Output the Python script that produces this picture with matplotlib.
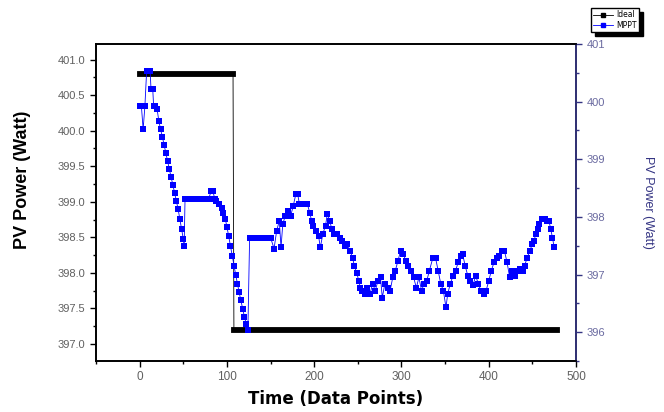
import matplotlib

matplotlib.use("Agg")
import matplotlib.pyplot as plt
from matplotlib.ticker import MultipleLocator
from matplotlib.lines import Line2D

# Ideal power (left axis), breakpoints of the step
ideal_x = [0, 107, 108, 478]
ideal_y = [400.8, 400.8, 397.2, 397.2]

# MPPT power (right axis)
mppt_x = [0, 2, 4, 6, 8, 10, 12, 13, 15, 16, 18, 20, 22, 24, 26, 28, 30, 32, 34,
          36, 38, 40, 42, 44, 46, 48, 50, 51, 52, 55, 58, 61, 64, 67, 70, 73, 76,
          79, 82, 84, 86, 88, 91, 94, 96, 98, 100, 102, 104, 106, 108, 110, 112,
          114, 116, 118, 120, 122, 124, 126, 129, 132, 135, 138, 141, 144, 147,
          150, 154, 157, 160, 162, 164, 167, 170, 173, 176, 179, 181, 183, 186,
          189, 192, 195, 197, 199, 202, 205, 207, 210, 213, 215, 218, 220, 223,
          226, 229, 232, 235, 238, 241, 244, 246, 249, 251, 253, 255, 258, 261,
          264, 267, 270, 273, 276, 278, 281, 284, 287, 290, 293, 296, 299, 302,
          305, 308, 311, 314, 317, 320, 323, 326, 329, 332, 336, 339, 342, 345,
          348, 351, 353, 356, 359, 362, 365, 368, 370, 373, 376, 379, 382, 385,
          388, 391, 394, 397, 400, 403, 406, 409, 412, 415, 418, 421, 424, 427,
          430, 433, 436, 439, 441, 444, 447, 450, 452, 454, 456, 458, 461, 464,
          467, 469, 471, 473, 475]
mppt_y = [399.92, 399.92, 399.52, 399.92, 400.53, 400.53, 400.53, 400.22, 400.22,
          399.92, 399.92, 399.87, 399.66, 399.52, 399.39, 399.25, 399.11, 398.97,
          398.83, 398.69, 398.56, 398.42, 398.28, 398.14, 397.97, 397.79, 397.62,
          397.50, 398.31, 398.31, 398.31, 398.31, 398.31, 398.31, 398.31, 398.31,
          398.31, 398.31, 398.45, 398.45, 398.31, 398.28, 398.23, 398.16, 398.07,
          397.97, 397.83, 397.67, 397.50, 397.33, 397.15, 397.00, 396.84, 396.69,
          396.55, 396.41, 396.27, 396.15, 396.03, 397.64, 397.64, 397.64, 397.64,
          397.64, 397.64, 397.64, 397.64, 397.64, 397.45, 397.76, 397.93, 397.47,
          397.88, 398.02, 398.11, 398.02, 398.19, 398.40, 398.40, 398.23, 398.23,
          398.23, 398.23, 398.07, 397.93, 397.85, 397.76, 397.67, 397.47, 397.71,
          397.85, 398.05, 397.93, 397.79, 397.71, 397.71, 397.64, 397.59, 397.50,
          397.53, 397.41, 397.29, 397.15, 397.02, 396.89, 396.77, 396.72, 396.67,
          396.77, 396.67, 396.84, 396.72, 396.89, 396.95, 396.60, 396.84, 396.77,
          396.72, 396.95, 397.07, 397.24, 397.41, 397.36, 397.24, 397.15, 397.07,
          396.95, 396.77, 396.95, 396.72, 396.84, 396.89, 397.07, 397.29, 397.29,
          397.07, 396.84, 396.72, 396.43, 396.67, 396.84, 396.98, 397.07, 397.21,
          397.33, 397.36, 397.15, 396.98, 396.89, 396.81, 396.98, 396.84, 396.72,
          396.67, 396.72, 396.89, 397.07, 397.21, 397.29, 397.33, 397.41, 397.41,
          397.21, 396.95, 397.07, 396.98, 397.07, 397.10, 397.07, 397.15, 397.29,
          397.41, 397.53, 397.59, 397.71, 397.79, 397.88, 397.97, 397.97, 397.93,
          397.93, 397.79, 397.64, 397.47]

NAVY = "#343483"
TICK_GREY = "#606060"
TICK_BLUE = "#6a6aa0"

fig = plt.figure(figsize=(6.64, 4.12), dpi=100)
ax = fig.add_axes([0.1446, 0.1238, 0.7229, 0.7694])
ax2 = ax.twinx()

# Ideal: thin connecting line plus thick runs where the level holds
ax.plot(ideal_x, ideal_y, color="black", lw=0.6, zorder=2)
for i in range(len(ideal_x) - 1):
    if ideal_y[i] == ideal_y[i + 1]:
        ax.plot(ideal_x[i:i + 2], ideal_y[i:i + 2], color="black", lw=4.2,
                solid_capstyle="projecting", zorder=3)

ax2.plot(mppt_x, mppt_y, color="blue", lw=0.6, marker="s", markersize=4.8,
         markeredgewidth=0, zorder=4)

ax.set_xlim(-50, 500)
ax.set_ylim(396.76, 401.22)
ax2.set_ylim(395.5, 401.0)

ax.xaxis.set_major_locator(MultipleLocator(100))
ax.xaxis.set_minor_locator(MultipleLocator(50))
ax.yaxis.set_major_locator(MultipleLocator(0.5))
ax.yaxis.set_minor_locator(MultipleLocator(0.25))
ax.yaxis.set_major_formatter(matplotlib.ticker.FormatStrFormatter("%.1f"))
ax2.yaxis.set_major_locator(MultipleLocator(1))
ax2.yaxis.set_minor_locator(MultipleLocator(0.5))
ax2.yaxis.set_major_formatter(matplotlib.ticker.FormatStrFormatter("%d"))

for a in (ax, ax2):
    for s in a.spines.values():
        s.set_linewidth(1.2)
ax2.spines["right"].set_color(NAVY)

ax.tick_params(axis="both", which="major", direction="out", length=4, width=1,
               labelsize=8, labelcolor=TICK_GREY)
ax.tick_params(axis="both", which="minor", direction="out", length=2.5, width=1)
ax.tick_params(axis="x", labelsize=8.5)
ax2.tick_params(axis="y", which="major", direction="out", length=4, width=1,
                labelsize=8, labelcolor=TICK_BLUE, color=NAVY)
ax2.tick_params(axis="y", which="minor", direction="out", length=2.5, width=1,
                color=NAVY)
for lab in ax.get_xticklabels() + ax.get_yticklabels() + ax2.get_yticklabels():
    lab.set_family("Liberation Sans")

ax.set_xlabel("Time (Data Points)", fontsize=12, fontweight="bold",
              family="DejaVu Sans", labelpad=5)
ax.set_ylabel("PV Power (Watt)", fontsize=13, fontweight="bold",
              family="Liberation Sans")
ax.yaxis.set_label_coords(-0.135, 0.57)
ax2.set_ylabel("PV Power (Watt)", fontsize=9, color=NAVY,
               family="Liberation Sans", rotation=270)
ax2.yaxis.set_label_coords(1.163, 0.5)

handles = [
    Line2D([], [], color="black", lw=0.6, marker="s", markersize=3),
    Line2D([], [], color="blue", lw=0.6, marker="s", markersize=3),
]
fig.legend(handles, ["Ideal", "MPPT"], loc="upper left",
           bbox_to_anchor=(0.884, 0.99), fontsize=5.5, frameon=True,
           fancybox=False, edgecolor="black", handlelength=2.6,
           borderpad=0.3, labelspacing=0.2, handletextpad=0.4,
           shadow={"color": "black", "alpha": 1, "ox": 3, "oy": -3})

fig.savefig("out.png", dpi=100)
